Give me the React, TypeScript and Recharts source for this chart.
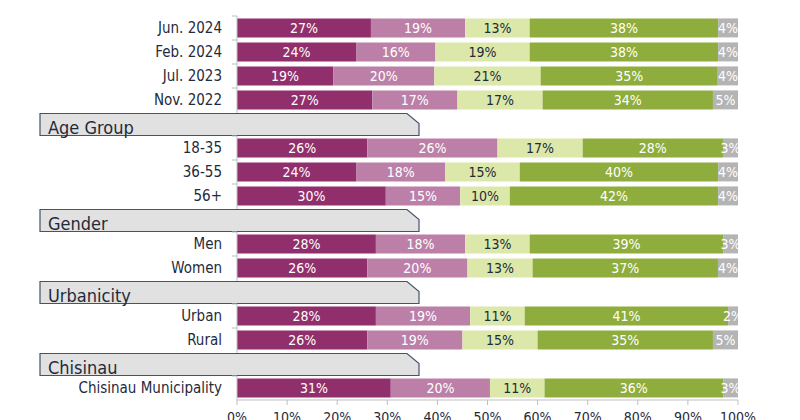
import React from "react";
import { BarChart, Bar, XAxis, YAxis, LabelList } from "recharts";

// rows top to bottom; section headers are rows without bars
const categories = [
  "Jun. 2024", "Feb. 2024", "Jul. 2023", "Nov. 2022",
  "Age Group", "18-35", "36-55", "56+",
  "Gender", "Men", "Women",
  "Urbanicity", "Urban", "Rural",
  "Chisinau", "Chisinau Municipality",
];
const sectionHeaders = ["Age Group", "Gender", "Urbanicity", "Chisinau"];

const seg1 = [27, 24, 19, 27, null, 26, 24, 30, null, 28, 26, null, 28, 26, null, 31];
const seg2 = [19, 16, 20, 17, null, 26, 18, 15, null, 18, 20, null, 19, 19, null, 20];
const seg3 = [13, 19, 21, 17, null, 17, 15, 10, null, 13, 13, null, 11, 15, null, 11];
const seg4 = [38, 38, 35, 34, null, 28, 40, 42, null, 39, 37, null, 41, 35, null, 36];
const seg5 = [4, 4, 4, 5, null, 3, 4, 4, null, 3, 4, null, 2, 5, null, 3];

const xTicks = [0, 0.1, 0.2, 0.3, 0.4, 0.5, 0.6, 0.7, 0.8, 0.9, 1];

const FONT = "'DejaVu Sans Condensed', 'DejaVu Sans', sans-serif";
const TEXT = "#1f2a3a";
const AXIS = "#bfbfbf";

const series = [
  { key: "seg1", values: seg1, color: "#912f6c", labelColor: "#ffffff" },
  { key: "seg2", values: seg2, color: "#bc80a8", labelColor: "#ffffff" },
  { key: "seg3", values: seg3, color: "#dce8aa", labelColor: TEXT },
  { key: "seg4", values: seg4, color: "#8fad3c", labelColor: "#ffffff" },
  { key: "seg5", values: seg5, color: "#b4b4b4", labelColor: "#ffffff" },
];

const data = categories.map((label, i) => {
  const row: Record<string, any> = { label };
  series.forEach((s) => {
    row[s.key] = s.values[i];
  });
  return row;
});

function CategoryTick(props: any) {
  const { x, y, payload } = props;
  const label = payload.value as string;
  if (sectionHeaders.includes(label)) {
    const top = y - 10.5;
    const bottom = y + 11.5;
    return (
      <g>
        <polygon
          points={`40,${bottom} 40,${top} 407,${top} 419,${top + 10} 419,${bottom}`}
          fill="#e1e1e1"
          stroke="#44546a"
          strokeWidth={1.2}
        />
        <text x={48} y={y + 10} fontSize={18} fill={TEXT} fontFamily={FONT}>
          {label}
        </text>
      </g>
    );
  }
  return (
    <g>
      <line x1={x + 10} x2={x + 15} y1={y - 12} y2={y - 12} stroke={AXIS} />
      <text
        x={x}
        y={y}
        dy="0.36em"
        textAnchor="end"
        fontSize={15}
        fill={TEXT}
        fontFamily={FONT}
      >
        {label}
      </text>
    </g>
  );
}

export default function App() {
  return (
    <div style={{ position: "absolute", left: 0, top: 0, background: "#fff" }}>
      <BarChart
        width={800}
        height={420}
        data={data}
        layout="vertical"
        stackOffset="expand"
        barCategoryGap="10%"
        margin={{ top: 16, right: 62, bottom: 0, left: 0 }}
      >
        <XAxis
          type="number"
          domain={[0, 1]}
          ticks={xTicks}
          height={20}
          tickSize={5}
          tickMargin={7}
          stroke={AXIS}
          tickFormatter={(v: number) => `${Math.round(v * 100)}%`}
          tick={{ fill: TEXT, fontSize: 14, fontFamily: FONT }}
        />
        <YAxis
          type="category"
          dataKey="label"
          width={237}
          interval={0}
          tickLine={false}
          tickSize={0}
          tickMargin={15}
          stroke={AXIS}
          tick={(p: any) => <CategoryTick {...p} />}
        />
        {series.map((s) => (
          <Bar
            key={s.key}
            dataKey={s.key}
            stackId="a"
            fill={s.color}
            isAnimationActive={false}
          >
            <LabelList
              dataKey={s.key}
              position="center"
              fill={s.labelColor}
              fontSize={14}
              fontFamily={FONT}
              formatter={(v: any) => (v ? `${v}%` : "")}
            />
          </Bar>
        ))}
      </BarChart>
    </div>
  );
}
